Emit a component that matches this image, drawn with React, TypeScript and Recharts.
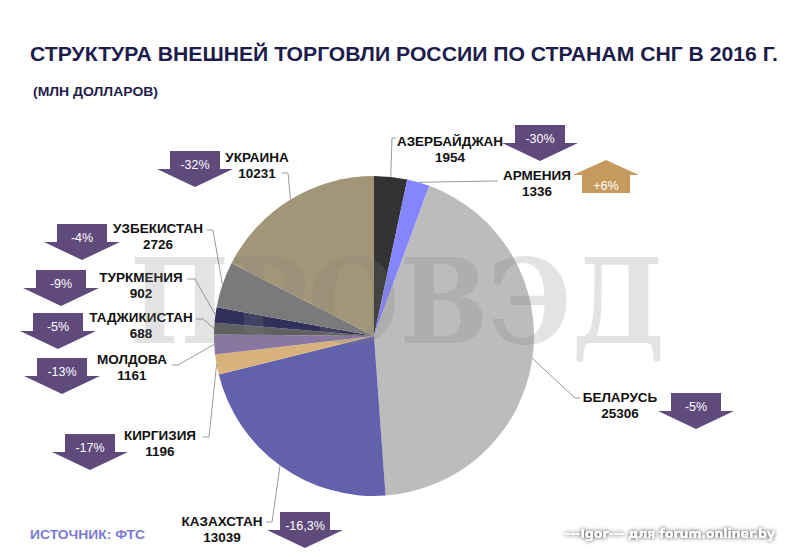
import { PieChart, Pie, Cell } from "recharts";

// внешняя торговля России со странами СНГ, 2016, млн $
const countries = [
  "АЗЕРБАЙДЖАН",
  "АРМЕНИЯ",
  "БЕЛАРУСЬ",
  "КАЗАХСТАН",
  "КИРГИЗИЯ",
  "МОЛДОВА",
  "ТАДЖИКИСТАН",
  "ТУРКМЕНИЯ",
  "УЗБЕКИСТАН",
  "УКРАИНА",
];
const trade = [1954, 1336, 25306, 13039, 1196, 1161, 688, 902, 2726, 10231];
// изменение к 2015 г., %
const changes = [-30, 6, -5, -16.3, -17, -13, -5, -9, -4, -32];

const colors = [
  "#333333",
  "#8585ff",
  "#bcbcbc",
  "#6262ac",
  "#d8b27c",
  "#8a76a2",
  "#606060",
  "#30305a",
  "#7a7a7a",
  "#a39678",
];

// where each label sits: text centre, name baseline, and the elbow of its leader line
const labelLayout = [
  { tx: 450, ty: 146, ex: 392, ey: 138, lx: 396, ly: 138 },
  { tx: 537, ty: 180, ex: 494, ey: 181, lx: 498, ly: 181 },
  { tx: 620, ty: 402, ex: 575, ey: 398, lx: 580, ly: 398 },
  { tx: 222, ty: 526, ex: 272, ey: 522, lx: 266, ly: 522 },
  { tx: 160, ty: 440, ex: 209, ey: 437, lx: 203, ly: 437 },
  { tx: 132, ty: 364, ex: 178, ey: 365, lx: 172, ly: 365 },
  { tx: 141, ty: 322, ex: 203, ey: 319, lx: 196, ly: 319 },
  { tx: 141, ty: 282, ex: 195, ey: 279, lx: 187, ly: 279 },
  { tx: 158, ty: 233, ex: 213, ey: 230, lx: 207, ly: 230 },
  { tx: 257, ty: 162, ex: 288, ey: 173, lx: 282, ly: 173 },
];

// arrow placement (centre x, top y)
const arrowLayout = [
  { cx: 540, top: 125 },
  { cx: 606, top: 160 },
  { cx: 696, top: 393 },
  { cx: 305, top: 512 },
  { cx: 90, top: 434 },
  { cx: 62, top: 358 },
  { cx: 58, top: 313 },
  { cx: 61, top: 270 },
  { cx: 82, top: 224 },
  { cx: 195, top: 151 },
];

const data = countries.map((name, i) => ({ name, value: trade[i] }));

const RAD = Math.PI / 180;
const FONT = "'Liberation Sans', Arial, sans-serif";

function renderLabel(props: any) {
  const { cx, cy, midAngle, outerRadius, index, name, value } = props;
  const l = labelLayout[index];
  const px = cx + outerRadius * Math.cos(-midAngle * RAD);
  const py = cy + outerRadius * Math.sin(-midAngle * RAD);
  return (
    <g key={`lbl-${index}`}>
      <polyline
        points={`${px},${py} ${l.ex},${l.ey} ${l.lx},${l.ly}`}
        fill="none"
        stroke="#9a9a9a"
        strokeWidth={1}
      />
      <text x={l.tx} y={l.ty} textAnchor="middle" fontFamily={FONT} fontWeight="bold" fontSize={13.5} fill="#111">
        {name}
      </text>
      <text x={l.tx} y={l.ty + 16} textAnchor="middle" fontFamily={FONT} fontWeight="bold" fontSize={13.5} fill="#111">
        {value}
      </text>
    </g>
  );
}

function fmtChange(v: number) {
  const s = String(Math.abs(v)).replace(".", ",");
  return (v > 0 ? "+" : "-") + s + "%";
}

function Arrow({ cx, top, v }: { cx: number; top: number; v: number }) {
  if (v > 0) {
    const d = `M${cx},${top} L${cx + 33},${top + 15} L${cx + 24},${top + 15} L${cx + 24},${top + 33} L${cx - 24},${top + 33} L${cx - 24},${top + 15} L${cx - 33},${top + 15} Z`;
    return (
      <g>
        <path d={d} fill="#c69a5d" />
        <text x={cx} y={top + 30} textAnchor="middle" fontFamily={FONT} fontSize={12.5} fill="#fff">
          {fmtChange(v)}
        </text>
      </g>
    );
  }
  const d = `M${cx - 25},${top} L${cx + 25},${top} L${cx + 25},${top + 18} L${cx + 38},${top + 18} L${cx},${top + 36} L${cx - 38},${top + 18} L${cx - 25},${top + 18} Z`;
  return (
    <g>
      <path d={d} fill="#604a7c" />
      <text x={cx} y={top + 18} textAnchor="middle" fontFamily={FONT} fontSize={12.5} fill="#fff">
        {fmtChange(v)}
      </text>
    </g>
  );
}

export default function App() {
  return (
    <div style={{ position: "relative", width: 800, height: 557, background: "#fff" }}>
      <style>{"body{margin:0}"}</style>
      <PieChart width={800} height={557} margin={{ top: 0, right: 0, bottom: 0, left: 0 }}>
        <Pie
          data={data}
          dataKey="value"
          nameKey="name"
          cx={374}
          cy={336}
          outerRadius={160}
          startAngle={90}
          endAngle={-270}
          stroke="none"
          label={renderLabel}
          labelLine={false}
          isAnimationActive={false}
        >
          {data.map((d, i) => (
            <Cell key={d.name} fill={colors[i]} stroke="none" />
          ))}
        </Pie>
      </PieChart>
      <svg
        width={800}
        height={557}
        style={{ position: "absolute", left: 0, top: 0, pointerEvents: "none" }}
      >
        <defs>
          <filter id="shadow" x="-10%" y="-50%" width="120%" height="200%">
            <feDropShadow dx="0" dy="0" stdDeviation="2" floodColor="#000" floodOpacity="0.9" />
          </filter>
        </defs>
        <text
          x={130}
          y={343}
          fontFamily="'DejaVu Serif', serif"
          fontWeight="bold"
          fontSize={118}
          textLength={535}
          lengthAdjust="spacingAndGlyphs"
          fill="#808080"
          fillOpacity={0.22}
        >
          ПРОВЭД
        </text>
        <text
          x={30}
          y={61}
          fontFamily={FONT}
          fontWeight="bold"
          fontSize={21}
          textLength={748}
          lengthAdjust="spacingAndGlyphs"
          fill="#1d1d4b"
        >
          СТРУКТУРА ВНЕШНЕЙ ТОРГОВЛИ РОССИИ ПО СТРАНАМ СНГ В 2016 Г.
        </text>
        <text
          x={33}
          y={96}
          fontFamily={FONT}
          fontWeight="bold"
          fontSize={13}
          textLength={125}
          lengthAdjust="spacingAndGlyphs"
          fill="#1d1d4b"
        >
          (МЛН ДОЛЛАРОВ)
        </text>
        {changes.map((v, i) => (
          <Arrow key={countries[i]} cx={arrowLayout[i].cx} top={arrowLayout[i].top} v={v} />
        ))}
        <text x={30} y={539} fontFamily={FONT} fontWeight="bold" fontSize={13} textLength={115} lengthAdjust="spacingAndGlyphs" fill="#7b7bd4">
          ИСТОЧНИК: ФТС
        </text>
        <text
          x={565}
          y={538}
          fontFamily="'DejaVu Sans', Verdana, sans-serif"
          fontWeight="bold"
          fontSize={12}
          textLength={210}
          lengthAdjust="spacingAndGlyphs"
          fill="#fff"
          filter="url(#shadow)"
        >
          ---Igor--- для forum.onliner.by
        </text>
      </svg>
    </div>
  );
}
